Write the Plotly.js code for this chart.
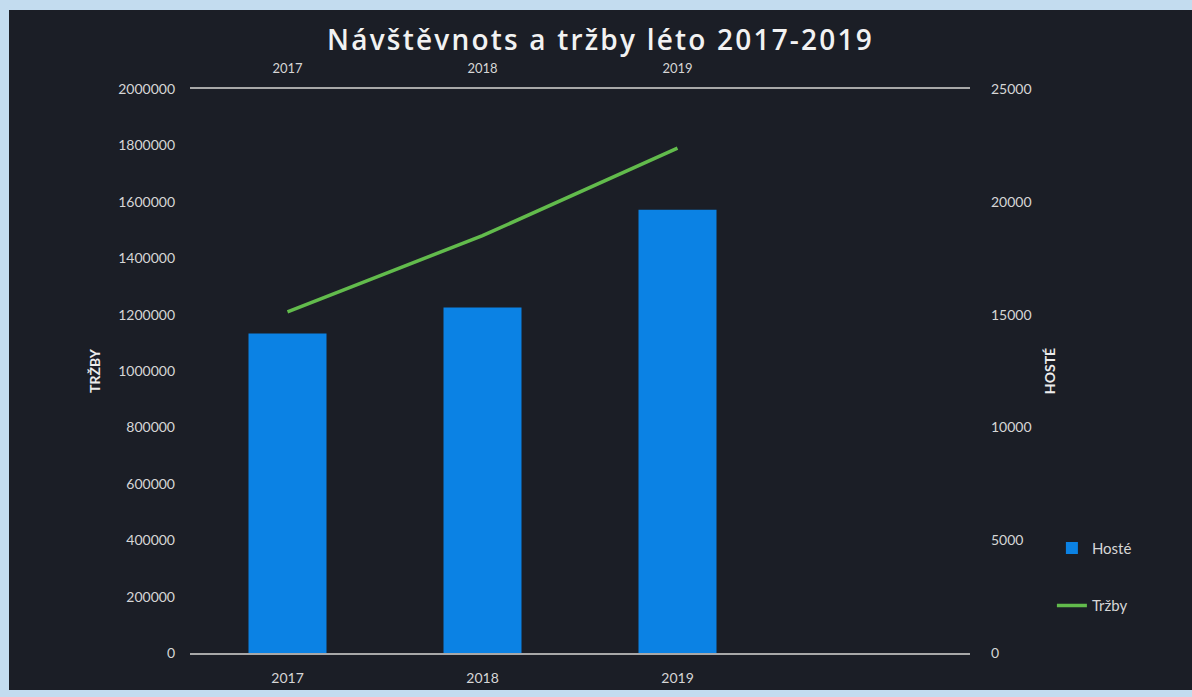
<!DOCTYPE html>
<html>
<head>
<meta charset="utf-8">
<script src="https://cdn.plot.ly/plotly-3.0.1.min.js"></script>
<style>
  html, body { margin: 0; padding: 0; width: 1192px; height: 697px; background: #c3dcef; overflow: hidden; }
  #chart { position: absolute; left: 9px; top: 10px; width: 1183px; height: 680px; }
  #chart .gtitle { letter-spacing: 2.2px; }
</style>
</head>
<body>
<div id="chart"></div>
<script>
// Data
const years = ["2017", "2018", "2019"];
const hoste = [14160, 15310, 19650];          // bars, right axis (HOSTÉ)
const trzby = [1210000, 1480000, 1790000];    // line, left axis (TRŽBY)
const leftTicks = [0, 200000, 400000, 600000, 800000, 1000000, 1200000, 1400000, 1600000, 1800000, 2000000];
const rightTicks = [0, 5000, 10000, 15000, 20000, 25000];

const textColor = "#d6d6d6";
const lineColor = "#a8a8a8";
const fontFam = "Lato, 'Open Sans', sans-serif";

const traces = [
  {
    type: "bar",
    name: "Hosté",
    x: years,
    y: hoste,
    xaxis: "x",
    yaxis: "y2",
    width: 0.4,
    marker: { color: "#0b82e4" },
    legendgroup: "a"
  },
  {
    type: "scatter",
    mode: "lines",
    name: "Tržby",
    x: years,
    y: trzby,
    xaxis: "x2",
    yaxis: "y",
    line: { color: "#62bb4c", width: 3.5 },
    legendgroup: "b"
  }
];

const layout = {
  width: 1183,
  height: 680,
  paper_bgcolor: "#1b1e26",
  plot_bgcolor: "rgba(0,0,0,0)",
  margin: { l: 181, r: 222, t: 79, b: 37 },
  font: { family: fontFam, color: textColor, size: 13 },
  title: {
    text: "Návštěvnots a tržby léto 2017-2019",
    font: { family: "'Open Sans', Lato, sans-serif", size: 28, weight: 600, color: "#f2f2f2" },
    x: 0.5, xanchor: "center",
    y: 1 - 30 / 680, yanchor: "middle"
  },
  showlegend: true,
  legend: {
    x: 1.105, xanchor: "left",
    y: 0.215, yanchor: "top",
    font: { size: 15, color: textColor },
    bgcolor: "rgba(0,0,0,0)",
    tracegroupgap: 35,
    traceorder: "grouped"
  },
  xaxis: {
    type: "category",
    categoryarray: years,
    range: [-0.5, 3.5],
    showline: true, linecolor: lineColor, linewidth: 2,
    showgrid: false, zeroline: false,
    ticks: "", ticklabelstandoff: 11,
    tickfont: { size: 14, color: textColor }
  },
  xaxis2: {
    type: "category",
    categoryarray: years,
    range: [-0.5, 3.5],
    overlaying: "x",
    side: "top",
    showline: true, linecolor: lineColor, linewidth: 2,
    showgrid: false, zeroline: false,
    ticks: "", ticklabelstandoff: 9,
    tickfont: { size: 13, color: textColor }
  },
  yaxis: {
    range: [0, 2000000],
    tickvals: leftTicks,
    ticktext: leftTicks.map(String),
    showgrid: false, zeroline: false, showline: false,
    ticks: "", ticklabelstandoff: 14,
    tickfont: { size: 14, color: textColor },
    title: { text: "<b>TRŽBY</b>", font: { size: 14, color: "#ececec" }, standoff: 14 }
  },
  yaxis2: {
    range: [0, 25000],
    tickvals: rightTicks,
    ticktext: rightTicks.map(String),
    overlaying: "y",
    side: "right",
    showgrid: false, zeroline: false, showline: false,
    ticks: "", ticklabelstandoff: 20,
    tickfont: { size: 14, color: textColor },
    title: { text: "<b>HOSTÉ</b>", font: { size: 14, color: "#ececec" }, standoff: 14 }
  }
};

Plotly.newPlot("chart", traces, layout, { displayModeBar: false, staticPlot: true });
</script>
</body>
</html>
